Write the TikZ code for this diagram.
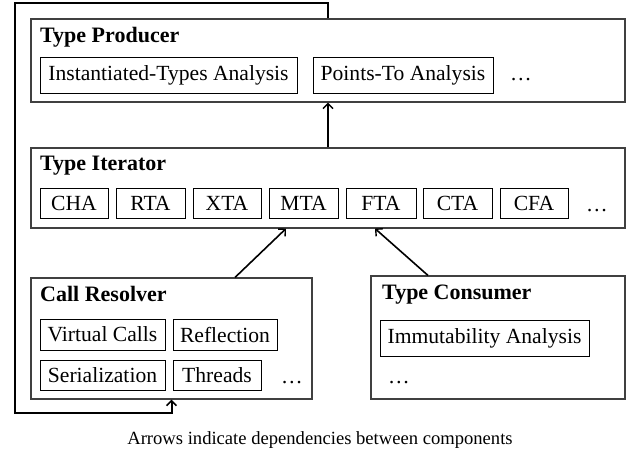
\documentclass[tikz,border=0pt]{standalone}
\usepackage{fontspec}
\setmainfont{Liberation Serif}
\usetikzlibrary{arrows.meta}
\begin{document}
\begin{tikzpicture}[x=1pt,y=-1pt,
  outbox/.style={draw=black!75, line width=1.1pt, inner sep=0pt},
  inbox/.style={draw=black, line width=0.9pt, inner sep=0pt, font=\fontsize{21.6}{24}\selectfont},
  ttl/.style={anchor=base west, inner sep=0pt, font=\fontsize{22}{24}\selectfont\bfseries},
  dts/.style={anchor=base west, inner sep=0pt, font=\fontsize{21.6}{24}\selectfont},
  dep/.style={line width=1.6pt, -{Straight Barb[length=5pt,width=10pt,line width=1.4pt]}},
  loopline/.style={line width=2pt, -{Straight Barb[length=5pt,width=10pt,line width=1.6pt]}}]
\useasboundingbox (0,0) rectangle (639,452);
% outer boxes
\node[outbox, minimum width=594pt, minimum height=83pt] (prod) at (328,60.5) {};
\node[outbox, minimum width=594pt, minimum height=80pt] (iter) at (328,188) {};
\node[outbox, minimum width=281pt, minimum height=121pt] (call) at (171.5,338.5) {};
\node[outbox, minimum width=254pt, minimum height=123pt] (cons) at (498,337.5) {};
% titles
\node[ttl] (tprod) at (40,43) {Type Producer};
\node[ttl] (titer) at (40,170.5) {Type Iterator};
\node[ttl] (tcall) at (40,301.5) {Call Resolver};
\node[ttl] (tcons) at (382,299) {Type Consumer};
% producer contents
\node[inbox, minimum width=257pt, minimum height=36pt] (ita) at (168.5,75) {Instantiated-Types Analysis};
\node[inbox, minimum width=180pt, minimum height=36pt] (pta) at (403,75) {Points-To Analysis};
\node[dts] (d1) at (510,81) {\dots};
% iterator contents
\node[inbox, minimum width=68pt, minimum height=30pt] (cha) at (74,203) {CHA};
\node[inbox, minimum width=69pt, minimum height=30pt] (rta) at (150.5,203) {RTA};
\node[inbox, minimum width=68pt, minimum height=30pt] (xta) at (227,203) {XTA};
\node[inbox, minimum width=69pt, minimum height=30pt] (mta) at (303.5,203) {MTA};
\node[inbox, minimum width=70pt, minimum height=30pt] (fta) at (381,203) {FTA};
\node[inbox, minimum width=69pt, minimum height=30pt] (cta) at (457.5,203) {CTA};
\node[inbox, minimum width=68pt, minimum height=30pt] (cfa) at (534,203) {CFA};
\node[dts] (d2) at (586,211) {\dots};
% call resolver contents
\node[inbox, minimum width=125pt, minimum height=31pt] (vc) at (102.5,334.5) {Virtual Calls};
\node[inbox, minimum width=104pt, minimum height=31pt] (refl) at (225,334.5) {Reflection};
\node[inbox, minimum width=125pt, minimum height=30pt] (ser) at (102.5,375) {Serialization};
\node[inbox, minimum width=88pt, minimum height=30pt] (thr) at (217,375) {Threads};
\node[dts] (d3) at (281,383) {\dots};
% consumer contents
\node[inbox, minimum width=209pt, minimum height=36pt] (imm) at (484.5,338) {Immutability Analysis};
\node[dts] (d4) at (388,383) {\dots};
% dependencies
\draw[dep] (iter.north) -- (prod.south);
\draw[dep] ([xshift=63.5pt]call.north) -- ([xshift=-42pt]iter.south);
\draw[dep] ([xshift=-70pt]cons.north) -- ([xshift=47pt]iter.south);
\coordinate (tl) at (15,3);
\coordinate (bl) at (15,413);
\draw[loopline] (prod.north) |- (tl) -- (bl) -| (call.south);
% caption
\node[anchor=base, inner sep=0pt, font=\fontsize{18.6}{21}\selectfont] (cap) at (320,444) {Arrows indicate dependencies between components};
\end{tikzpicture}
\end{document}
